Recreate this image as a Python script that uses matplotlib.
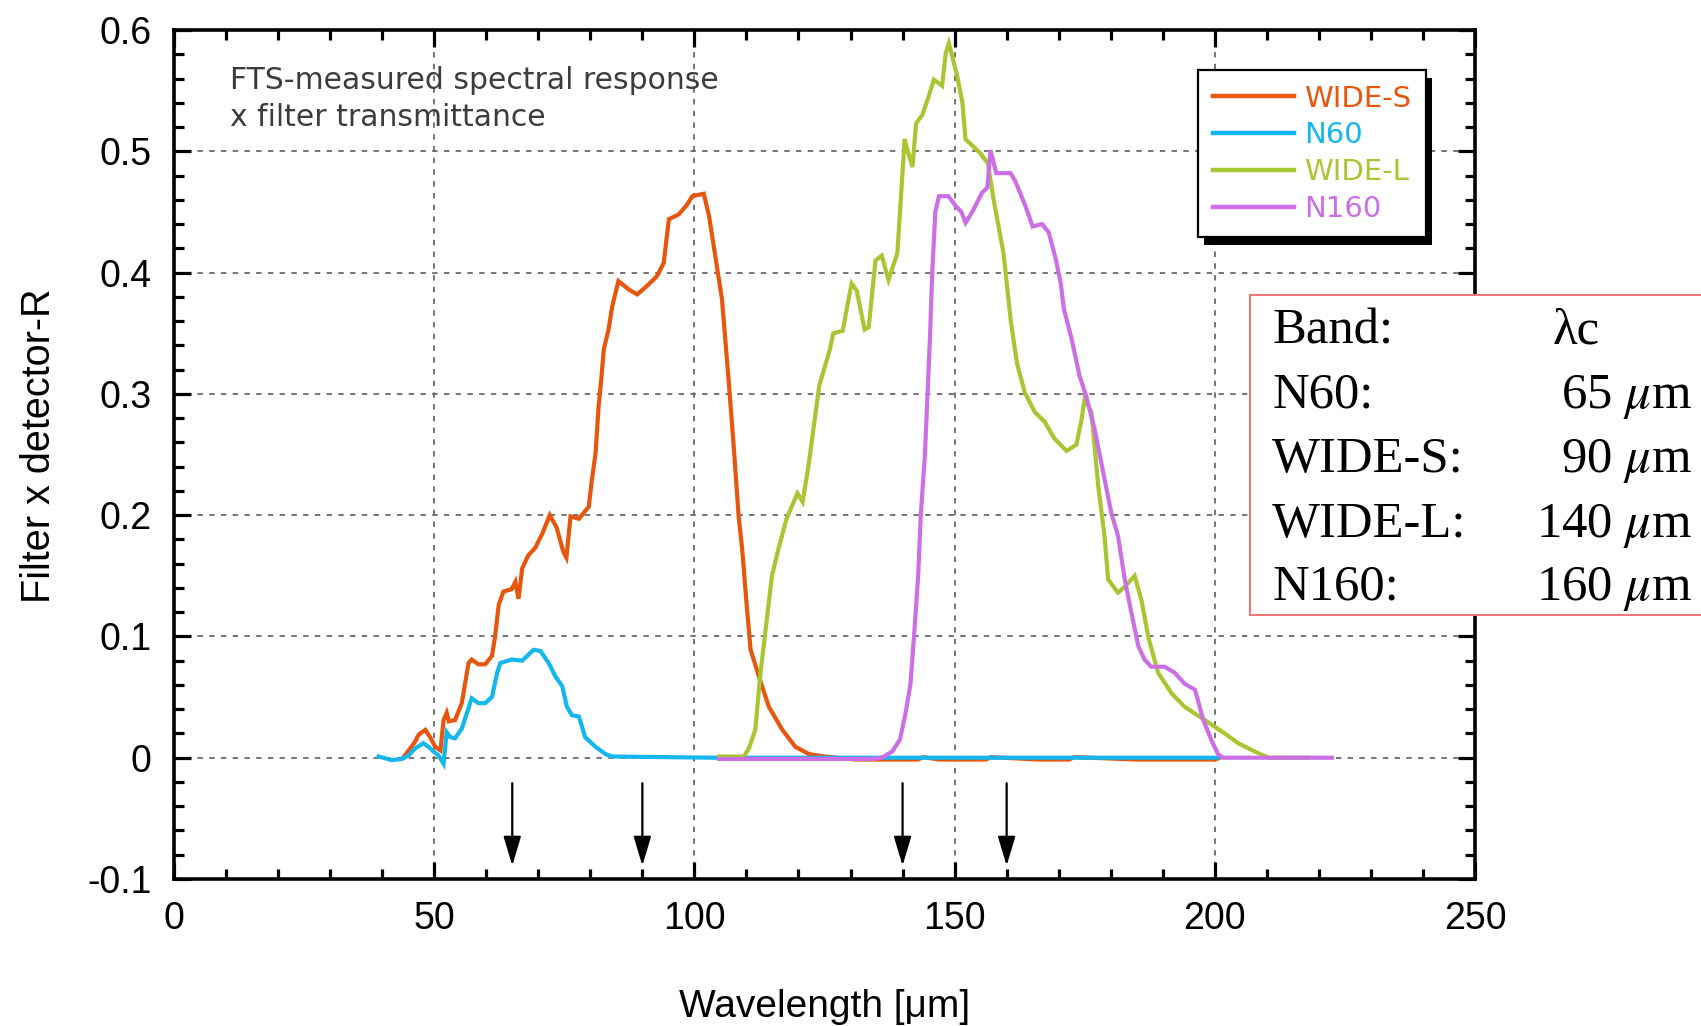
import numpy as np
import matplotlib
matplotlib.use("Agg")
import matplotlib.pyplot as plt
from matplotlib.patches import Rectangle
from matplotlib.transforms import IdentityTransform

plt.rcParams['font.family'] = ['DejaVu Sans']
plt.rcParams['mathtext.fontset'] = 'stix'

# spectral response x filter transmittance, read per band
wide_s_x = [44, 45.1, 46.3, 47, 48.3, 49.2, 50.2, 51.2, 51.8, 52.4, 52.8, 54, 55.3, 56.6, 57.2,
            58.5, 59.8, 61.1, 61.7, 62.4, 63.3, 64.9, 65.6, 66.2, 66.9, 68.1, 69.4, 70.8, 72.2,
            73.5, 74.8, 75.4, 76.2, 77.8, 79.7, 80.3, 81, 81.6, 82.1, 82.6, 83.5, 84.2, 85.4,
            87.4, 89, 90.9, 92.8, 94.1, 95.1, 97, 98.6, 99.6, 101.8, 102.8, 104, 105.3, 106.6,
            107.6, 108.5, 109.2, 110.1, 110.8, 112.4, 114.3, 116.9, 119.4, 122, 125,
            131, 143, 144, 147, 156, 157, 166, 172, 173, 185, 200, 201]
wide_s_y = [0, 0.006, 0.013, 0.019, 0.023, 0.017, 0.009, 0.006, 0.031, 0.037, 0.03, 0.031, 0.045,
            0.078, 0.081, 0.077, 0.077, 0.084, 0.1, 0.126, 0.137, 0.139, 0.145, 0.131, 0.156,
            0.167, 0.173, 0.185, 0.2, 0.19, 0.17, 0.165, 0.199, 0.197, 0.207, 0.229, 0.251, 0.29,
            0.312, 0.337, 0.353, 0.372, 0.393, 0.386, 0.382, 0.389, 0.397, 0.408, 0.444, 0.448,
            0.456, 0.463, 0.465, 0.447, 0.414, 0.378, 0.31, 0.254, 0.199, 0.171, 0.123, 0.089,
            0.067, 0.042, 0.023, 0.009, 0.003, 0.001,
            -0.0015, -0.0015, 0.0005, -0.0015, -0.0015, 0.0005, -0.0015, -0.0015, 0.0005,
            -0.0015, -0.0015, 0.0]

n60_x = [39.3, 41.9, 43.8, 45.1, 46.3, 47.9, 48.9, 49.9, 50.8, 51.8, 52.4, 53.1, 54, 55.3, 56.3,
         57.2, 58.5, 59.8, 61.1, 62.1, 62.7, 64.9, 66.9, 69.1, 70.4, 72, 73.3, 74.6, 75.5, 76.5,
         77.8, 79, 81, 82.9, 84.2, 104, 130, 160, 200.5]
n60_y = [0.001, -0.002, -0.001, 0.002, 0.0075, 0.012, 0.009, 0.005, 0.002, -0.005, 0.021, 0.017,
         0.016, 0.024, 0.037, 0.049, 0.045, 0.045, 0.05, 0.07, 0.078, 0.081, 0.08, 0.089, 0.088,
         0.078, 0.067, 0.059, 0.042, 0.035, 0.034, 0.017, 0.009, 0.003, 0.001, 0, 0, 0, 0]

wide_l_x = [104.7, 109.5, 110.5, 111.7, 112.7, 114, 114.9, 116.2, 117.7, 119.8, 120.8, 121.9, 124,
            126, 126.7, 128.5, 130.2, 131.2, 132.7, 133.5, 134.8, 136, 137.3, 139, 140.4, 141,
            141.9, 142.6, 143.8, 145, 146, 147, 147.6, 148.3, 148.9, 150.5, 151.5, 152.1, 154.8,
            156.4, 157.5, 159.4, 160.8, 162, 163.5, 165.4, 167.3, 169.2, 171.5, 173.4, 174.4,
            175, 176.3, 177.6, 178.8, 179.5, 181.4, 182.7, 184.6, 185.9, 187.2, 189.1, 191.7,
            194.2, 198.1, 201.9, 204.5, 207.7, 210.3, 218]
wide_l_y = [0.001, 0.001, 0.008, 0.023, 0.07, 0.117, 0.15, 0.173, 0.197, 0.218, 0.211, 0.24,
            0.307, 0.336, 0.35, 0.352, 0.391, 0.385, 0.353, 0.355, 0.41, 0.414, 0.394, 0.416,
            0.51, 0.5, 0.487, 0.523, 0.53, 0.545, 0.559, 0.556, 0.554, 0.581, 0.589, 0.562, 0.54,
            0.51, 0.499, 0.49, 0.46, 0.416, 0.36, 0.325, 0.301, 0.285, 0.277, 0.263, 0.253,
            0.258, 0.279, 0.296, 0.285, 0.224, 0.183, 0.147, 0.136, 0.141, 0.15, 0.13, 0.1, 0.07,
            0.053, 0.042, 0.031, 0.02, 0.012, 0.005, 0.0, 0.0]

n160_x = [104.7, 134, 136, 138, 139.5, 140.5, 141.5, 142.2, 143, 143.5, 144.3, 144.8, 145.3,
          145.7, 146.3, 147, 147.6, 148.8, 150.2, 151.3, 152.1, 153.4, 155.3, 156.3, 156.9, 158,
          160.75, 161.7, 163.6, 165, 166.8, 168.1, 169.5, 170.4, 171, 172.5, 174, 175.3, 176.9,
          178.8, 180.1, 181.4, 182.7, 184, 185.3, 186.5, 187.8, 190.4, 192.3, 194.2, 196.2,
          197.8, 199.4, 200.6, 201.6, 222.5]
n160_y = [-0.001, -0.001, 0.0, 0.005, 0.015, 0.035, 0.06, 0.1, 0.15, 0.2, 0.25, 0.3, 0.35, 0.4,
          0.45, 0.463, 0.463, 0.463, 0.455, 0.45, 0.441, 0.45, 0.466, 0.47, 0.501, 0.482, 0.482,
          0.475, 0.455, 0.438, 0.44, 0.433, 0.41, 0.391, 0.37, 0.345, 0.315, 0.298, 0.271, 0.23,
          0.202, 0.183, 0.147, 0.119, 0.092, 0.081, 0.075, 0.075, 0.07, 0.061, 0.056, 0.031,
          0.014, 0.003, 0.0, 0.0]

band_names = ['WIDE-S', 'N60', 'WIDE-L', 'N160']
band_colors = ['#E8560E', '#14B6EE', '#A8C532', '#CC6FE6']

# centre wavelengths marked with arrows and listed in the table
table_bands = ['N60:', 'WIDE-S:', 'WIDE-L:', 'N160:']
table_lc = [65, 90, 140, 160]

xticks = [0, 50, 100, 150, 200, 250]
yticks = [-0.1, 0, 0.1, 0.2, 0.3, 0.4, 0.5, 0.6]
ytick_labels = ['-0.1', '0', '0.1', '0.2', '0.3', '0.4', '0.5', '0.6']

W, H = 1701, 1026
sans = 'Liberation Sans'
serif = 'Liberation Serif'

fig = plt.figure(figsize=(W / 100, H / 100), dpi=100)
ax = fig.add_axes([174 / W, 1 - 879 / H, 1301 / W, 849 / H])

series = [(wide_s_x, wide_s_y), (n60_x, n60_y), (wide_l_x, wide_l_y), (n160_x, n160_y)]
for (xs, ys), name, col in zip(series, band_names, band_colors):
    ax.plot(xs, ys, color=col, lw=3.0, label=name, solid_joinstyle='miter')

for lc in table_lc:
    ax.annotate('', xy=(lc, -0.089), xytext=(lc, -0.021),
                arrowprops=dict(arrowstyle='-|>,head_length=0.9,head_width=0.27',
                                mutation_scale=20, color='black', lw=1.6,
                                shrinkA=0, shrinkB=0))

ax.set_xlim(0, 250)
ax.set_ylim(-0.1, 0.6)
ax.set_xticks(xticks)
ax.set_xticks(np.arange(0, 251, 10), minor=True)
ax.set_yticks(yticks)
ax.set_yticklabels(ytick_labels)
ax.set_yticks(np.arange(-0.1, 0.601, 0.02), minor=True)
ax.tick_params(which='both', direction='in', top=True, right=True, width=2.3,
               labelsize=27, pad=16)
ax.tick_params(which='major', length=12)
ax.tick_params(which='minor', length=7)
for lab in ax.get_xticklabels() + ax.get_yticklabels():
    lab.set_family(sans)
for sp in ax.spines.values():
    sp.set_linewidth(2.6)
ax.grid(True, which='major', color='#6a6a6a', lw=1.3, linestyle=(0, (3, 3.5)))

ax.set_xlabel('Wavelength [μm]', fontsize=28, family=sans)
ax.set_ylabel('Filter x detector-R', fontsize=28.5, family=sans)
ax.xaxis.set_label_coords(0.5, -0.129)
ax.yaxis.set_label_coords(-0.089, 0.51)

fig.text(230 / W, 1 - 66 / H, 'FTS-measured spectral response\nx filter transmittance',
         va='top', ha='left', fontsize=21.5, color='#3c3c3c', linespacing=1.35)

leg = ax.legend(loc='upper left', bbox_to_anchor=(1198 / W, 1 - 70 / H),
                bbox_transform=fig.transFigure, fancybox=False, edgecolor='black',
                framealpha=1, fontsize=21, labelcolor='linecolor', handlelength=2.8,
                handletextpad=0.35, labelspacing=0.3, borderpad=0.5, borderaxespad=0)
leg.get_frame().set_linewidth(1.6)
for h in leg.get_lines():
    h.set_linewidth(3.2)

# solid drop shadow under the legend box
fig.canvas.draw()
bb = leg.get_window_extent()
shadow = Rectangle((bb.x0 + 6, bb.y0 - 8), bb.width, bb.height, transform=IdentityTransform(),
                   facecolor='black', edgecolor='none', zorder=leg.get_zorder() - 0.1)
ax.add_artist(shadow)

# table of band centres
box = Rectangle((1250 / W, 1 - 615 / H), 500 / W, 320 / H, transform=fig.transFigure,
                facecolor='white', edgecolor='#F07878', lw=1.5, zorder=5)
fig.add_artist(box)
row_base = [343, 408, 472, 537, 600]
fig.text(1272 / W, 1 - row_base[0] / H, 'Band:', family=serif, fontsize=36.5,
         va='baseline', zorder=6)
fig.text(1553 / W, 1 - row_base[0] / H, 'λc', family=serif, fontsize=36.5,
         va='baseline', zorder=6)
for yb, name, lc in zip(row_base[1:], table_bands, table_lc):
    fig.text(1272 / W, 1 - yb / H, name, family=serif, fontsize=36.5, va='baseline', zorder=6)
    fig.text(1692 / W, 1 - yb / H, f'{lc} $\\mu$m', family=serif, fontsize=36.5,
             va='baseline', ha='right', zorder=6)

fig.savefig('out.png', dpi=100, facecolor='white')
